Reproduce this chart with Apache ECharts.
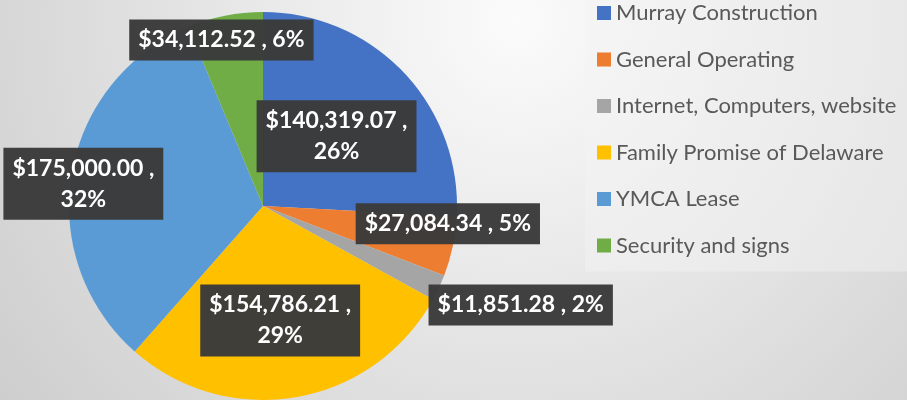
<!DOCTYPE html>
<html>
<head>
<meta charset="utf-8">
<script src="https://cdn.jsdelivr.net/npm/echarts@6/dist/echarts.min.js"></script>
<style>
html, body { margin: 0; padding: 0; }
#pieChart { width: 907px; height: 400px; }
</style>
</head>
<body>
<div id="pieChart"></div>
<script>
// budget categories and amounts
const categories = ['Murray Construction', 'General Operating', 'Internet, Computers, website',
    'Family Promise of Delaware', 'YMCA Lease', 'Security and signs'];
const amounts = [140319.07, 27084.34, 11851.28, 154786.21, 175000.00, 34112.52];

const colors = ['#4472C4', '#ED7D31', '#A5A5A5', '#FFC000', '#5B9BD5', '#70AD47'];
// label nudges from the default inside spot, and whether the label wraps
const labelOffsets = [[1, -1], [87, -3], [167, 57], [0, 16], [-81, -6], [-22, -68]];
const wrapLabel = [true, false, false, true, true, false];

const chart = echarts.init(document.getElementById('pieChart'));

const seriesData = categories.map((name, i) => ({
    name: name,
    value: amounts[i],
    label: { offset: labelOffsets[i] }
}));

chart.setOption({
    backgroundColor: {
        type: 'radial', x: 0.57, y: 0.05, r: 1.7,
        colorStops: [
            { offset: 0, color: '#fbfbfb' },
            { offset: 1, color: '#cbcbcb' }
        ]
    },
    color: colors,
    legend: {
        orient: 'vertical',
        left: 585,
        top: 0,
        padding: [2, 40, 15, 12],
        backgroundColor: 'rgba(245,245,245,0.45)',
        icon: 'rect',
        itemWidth: 14,
        itemHeight: 14,
        itemGap: 24.5,
        textStyle: {
            fontFamily: 'Lato',
            fontSize: 22,
            lineHeight: 20,
            color: '#595959'
        },
        data: categories
    },
    series: [
        {
            type: 'pie',
            center: [263, 206],
            radius: 194,
            startAngle: 90,
            clockwise: true,
            percentPrecision: 0,
            silent: true,
            labelLine: { show: false },
            label: {
                show: true,
                position: 'inside',
                formatter: (p) => {
                    const money = '$' + p.value.toLocaleString('en-US', { minimumFractionDigits: 2, maximumFractionDigits: 2 });
                    return money + ' ,' + (wrapLabel[p.dataIndex] ? '\n' : ' ') + p.percent + '%';
                },
                fontFamily: 'Lato',
                fontWeight: 'bold',
                fontSize: 23,
                lineHeight: 31,
                color: '#ffffff',
                align: 'center',
                backgroundColor: 'rgba(58,58,58,0.97)',
                padding: [5, 9]
            },
            data: seriesData
        }
    ]
});
</script>
</body>
</html>
